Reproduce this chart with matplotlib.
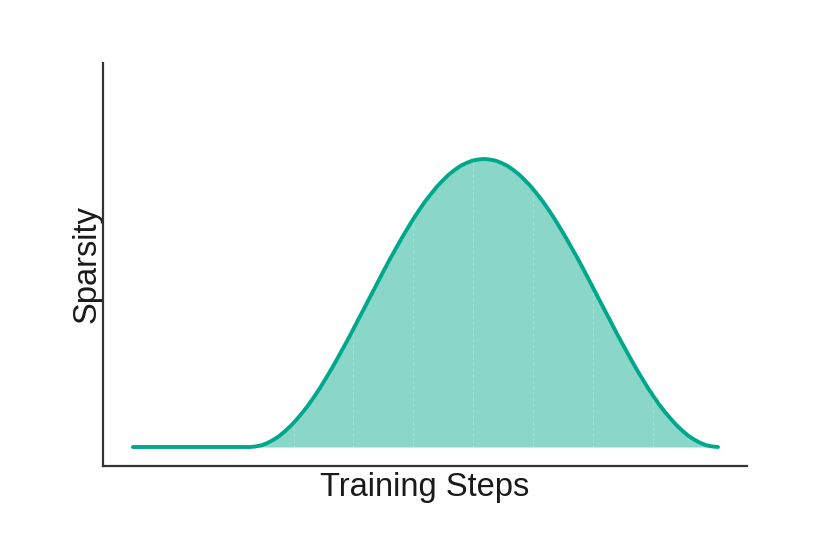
import numpy as np
import matplotlib
matplotlib.use("Agg")
import matplotlib.pyplot as plt

plt.rcParams['font.family'] = ['Liberation Sans', 'DejaVu Sans']

# Шаги обучения (условные единицы) и значения разреженности
steps = [0, 5, 10, 15] + list(range(20, 101))
sparsity = [
    0, 0, 0, 0,
    # подъём 20..60
    0.000, 0.002, 0.006, 0.014, 0.025, 0.038, 0.055, 0.074, 0.096, 0.120,
    0.146, 0.175, 0.206, 0.239, 0.273, 0.309, 0.346, 0.383, 0.422, 0.461,
    0.500, 0.539, 0.578, 0.617, 0.655, 0.691, 0.727, 0.761, 0.794, 0.825,
    0.854, 0.880, 0.905, 0.926, 0.946, 0.962, 0.976, 0.986, 0.994, 0.998,
    1.000,
    # спад 61..100
    0.998, 0.994, 0.986, 0.976, 0.962, 0.946, 0.926, 0.905, 0.880, 0.854,
    0.825, 0.794, 0.761, 0.727, 0.691, 0.655, 0.617, 0.578, 0.539, 0.500,
    0.461, 0.422, 0.383, 0.346, 0.309, 0.273, 0.239, 0.206, 0.175, 0.146,
    0.120, 0.096, 0.074, 0.055, 0.038, 0.025, 0.014, 0.006, 0.002, 0.000,
]

line_color = '#00a88b'

fig = plt.figure(figsize=(8.3, 5.34), dpi=100)
ax = fig.add_axes([0.124, 0.1273, 0.776, 0.7547])

ax.fill_between(steps, sparsity, 0, color=line_color, alpha=0.46, linewidth=0, zorder=1)
ax.plot(steps, sparsity, color=line_color, linewidth=2.8,
        solid_capstyle='round', solid_joinstyle='round', zorder=3)

ax.set_xlim(-5.13, 104.96)
ax.set_ylim(-0.066, 1.333)

# Едва заметная сетка поверх заливки
ax.set_xticks(np.arange(17.2, 100, 10.25))
ax.set_yticks([])
ax.tick_params(axis='x', length=0, labelbottom=False)
ax.grid(True, axis='x', color='white', linestyle='--', linewidth=0.8, alpha=0.2, zorder=2)

for side in ['top', 'right']:
    ax.spines[side].set_visible(False)
for side in ['left', 'bottom']:
    ax.spines[side].set_color('#333333')
    ax.spines[side].set_linewidth(1.6)

ax.set_xlabel('Training Steps', fontsize=23.5, color='#1a1a1a', labelpad=4)
ax.set_ylabel('Sparsity', fontsize=23.5, color='#1a1a1a', labelpad=0)

fig.savefig('out.png', dpi=100)
